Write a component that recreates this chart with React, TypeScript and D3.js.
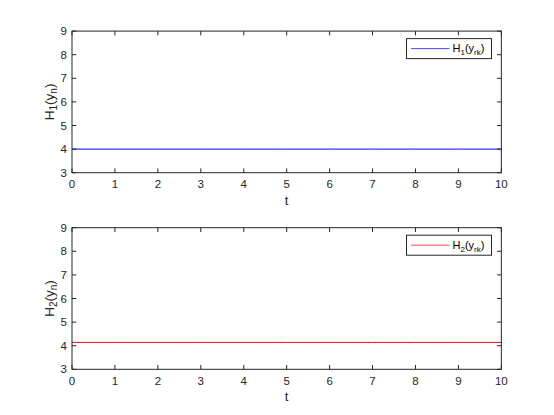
import React from "react";
import * as d3 from "d3";

const tValues = [0, 1, 2, 3, 4, 5, 6, 7, 8, 9, 10];
const h1Values = [4, 4, 4, 4, 4, 4, 4, 4, 4, 4, 4];
const h2Values = [4.14, 4.14, 4.14, 4.14, 4.14, 4.14, 4.14, 4.14, 4.14, 4.14, 4.14];
const xTicks = [0, 1, 2, 3, 4, 5, 6, 7, 8, 9, 10];
const yTicks = [3, 4, 5, 6, 7, 8, 9];
const panelSubscripts = ["1", "2"];
const panelColors = ["#0000ff", "#ff0000"];
const xLabel = "t";

const W = 554;
const H = 415;
const axisColor = "#262626";
const font = "'Liberation Sans', Arial, Helvetica, sans-serif";

function Panel({ top, values, color, sub }: { top: number; values: number[]; color: string; sub: string }) {
  const left = 72;
  const width = 429.35;
  const height = 141.6;
  const x = d3.scaleLinear().domain([0, 10]).range([left, left + width]);
  const y = d3.scaleLinear().domain([3, 9]).range([top + height, top]);
  const line = d3
    .line<number>()
    .x((_, i) => x(tValues[i]))
    .y((d) => y(d));
  const tick = 4.3;
  const bottom = top + height;
  const right = left + width;
  const legX = 406.5;
  const legY = top + 7.5;
  const legW = 85;
  const legH = 20;
  return (
    <g>
      <rect x={left} y={top} width={width} height={height} fill="#fff" />
      <path d={line(values) || ""} fill="none" stroke={color} strokeWidth={1} />
      <rect x={left} y={top} width={width} height={height} fill="none" stroke={axisColor} strokeWidth={1} />
      {xTicks.map((t) => (
        <g key={"x" + t}>
          <line x1={x(t)} x2={x(t)} y1={bottom} y2={bottom - tick} stroke={axisColor} />
          <line x1={x(t)} x2={x(t)} y1={top} y2={top + tick} stroke={axisColor} />
          <text x={x(t)} y={bottom + 15.3} textAnchor="middle" fontSize={11.5} fill={axisColor} fontFamily={font}>
            {t}
          </text>
        </g>
      ))}
      {yTicks.map((v) => (
        <g key={"y" + v}>
          <line x1={left} x2={left + tick} y1={y(v)} y2={y(v)} stroke={axisColor} />
          <line x1={right} x2={right - tick} y1={y(v)} y2={y(v)} stroke={axisColor} />
          <text x={left - 5} y={y(v) + 4} textAnchor="end" fontSize={11.5} fill={axisColor} fontFamily={font}>
            {v}
          </text>
        </g>
      ))}
      <text x={(left + right) / 2} y={bottom + 32} textAnchor="middle" fontSize={13} fill={axisColor} fontFamily={font}>
        {xLabel}
      </text>
      <text
        transform={`translate(54,${(top + bottom) / 2}) rotate(-90)`}
        textAnchor="middle"
        fontSize={13.5}
        fill={axisColor}
        fontFamily={font}
      >
        H
        <tspan fontSize={10} dy={3}>{sub}</tspan>
        <tspan dy={-3}>(y</tspan>
        <tspan fontSize={10} dy={3}>n</tspan>
        <tspan dy={-3}>)</tspan>
      </text>
      <rect x={legX} y={legY} width={legW} height={legH} fill="#fff" stroke={axisColor} strokeWidth={1} />
      <line x1={legX + 4.5} x2={legX + 43} y1={legY + 10} y2={legY + 10} stroke={color} strokeWidth={1} opacity={0.7} />
      <text x={legX + 46} y={legY + 13.5} fontSize={11} fill="#000" fontFamily={font}>
        H
        <tspan fontSize={8} dy={3}>{sub}</tspan>
        <tspan dy={-3}>(y</tspan>
        <tspan fontSize={8} dy={3}>rk</tspan>
        <tspan dy={-3}>)</tspan>
      </text>
    </g>
  );
}

export default function App() {
  const series = [h1Values, h2Values];
  const tops = [31.1, 227.7];
  return (
    <svg width={W} height={H} style={{ position: "absolute", left: 0, top: 0, background: "#fff" }}>
      <rect width={W} height={H} fill="#fff" />
      {series.map((vals, i) => (
        <Panel key={i} top={tops[i]} values={vals} color={panelColors[i]} sub={panelSubscripts[i]} />
      ))}
    </svg>
  );
}
